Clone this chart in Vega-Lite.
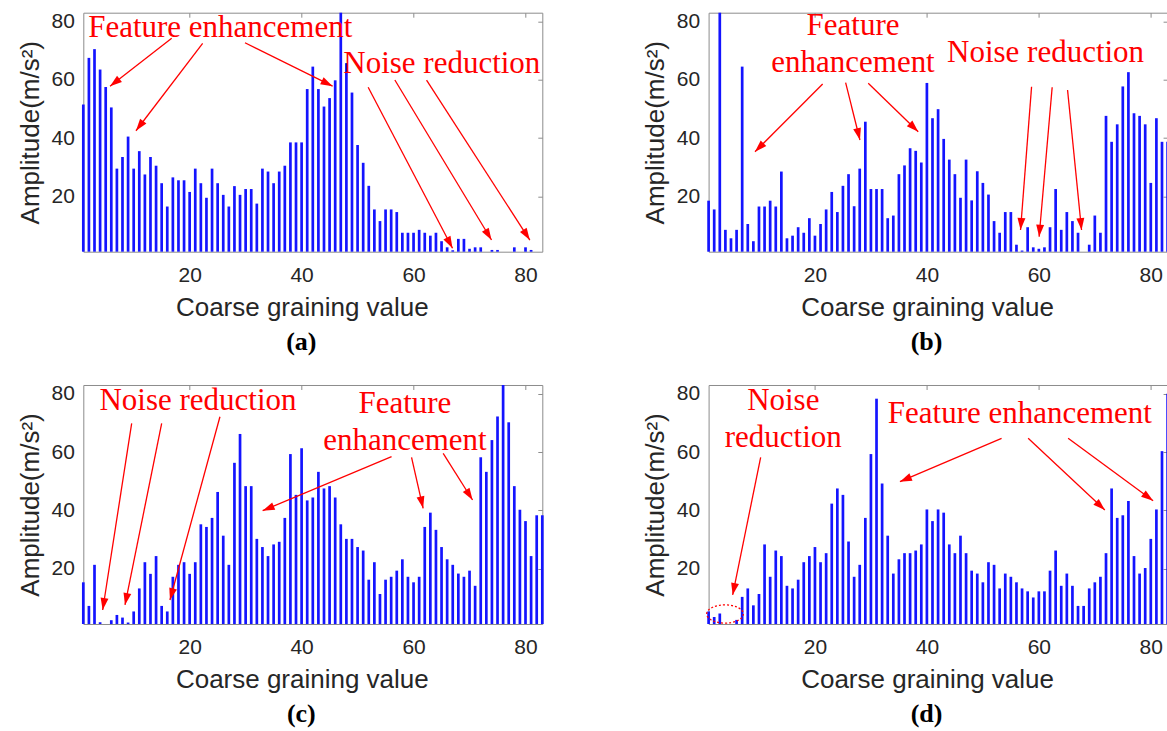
{
  "$schema": "https://vega.github.io/schema/vega-lite/v6.json",
  "padding": {"left": 16.3, "top": 8.7, "right": 0, "bottom": 0},
  "background": "white",
  "datasets": {
    "bars": [
      {"x":1,"a":51.5,"b":18.5,"c":15.3,"d":5.3},
      {"x":2,"a":67.5,"b":15.5,"c":7.2,"d":3.4},
      {"x":3,"a":70.5,"b":83,"c":21.3,"d":4.6},
      {"x":4,"a":63.5,"b":8.5,"c":1.6,"d":1},
      {"x":5,"a":57.5,"b":5.6,"c":1,"d":1},
      {"x":6,"a":50.5,"b":8.5,"c":2.3,"d":2.4},
      {"x":7,"a":29.5,"b":64.5,"c":4.1,"d":10.3},
      {"x":8,"a":33.5,"b":10.5,"c":3.2,"d":13.2},
      {"x":9,"a":40.5,"b":4.6,"c":1.5,"d":7.4},
      {"x":10,"a":29.5,"b":16.5,"c":5.3,"d":11.3},
      {"x":11,"a":35.5,"b":16.5,"c":13.2,"d":28.3},
      {"x":12,"a":27.5,"b":18.5,"c":22.2,"d":17.2},
      {"x":13,"a":33.5,"b":16.5,"c":18.2,"d":26.2},
      {"x":14,"a":30.5,"b":28.5,"c":24.3,"d":24.3},
      {"x":15,"a":24.5,"b":5.6,"c":7.2,"d":14.1},
      {"x":16,"a":16.5,"b":6.5,"c":5.3,"d":13.2},
      {"x":17,"a":26.5,"b":9.4,"c":17.2,"d":16.2},
      {"x":18,"a":25.5,"b":7.5,"c":21.3,"d":22.2},
      {"x":19,"a":25.5,"b":12.5,"c":22.2,"d":24.3},
      {"x":20,"a":21.5,"b":6.5,"c":18.2,"d":27.4},
      {"x":21,"a":29.5,"b":10.5,"c":22.2,"d":22.2},
      {"x":22,"a":24.5,"b":15.5,"c":35.2,"d":25.3},
      {"x":23,"a":19.5,"b":21.5,"c":34.3,"d":42.3},
      {"x":24,"a":29.5,"b":14.6,"c":37.4,"d":47.5},
      {"x":25,"a":24.5,"b":23.6,"c":46.3,"d":45.3},
      {"x":26,"a":20.5,"b":27.6,"c":31.3,"d":29.3},
      {"x":27,"a":16.5,"b":16.6,"c":21.3,"d":17.2},
      {"x":28,"a":23.5,"b":29.5,"c":56.3,"d":21.3},
      {"x":29,"a":20.5,"b":45.6,"c":66.2,"d":37.4},
      {"x":30,"a":22.5,"b":22.5,"c":48.3,"d":59.3},
      {"x":31,"a":22.5,"b":22.5,"c":48.3,"d":78.3},
      {"x":32,"a":17.5,"b":22.5,"c":30.2,"d":49.2},
      {"x":33,"a":29.5,"b":12.5,"c":27.4,"d":31.3},
      {"x":34,"a":28.5,"b":13.4,"c":24.3,"d":18.3},
      {"x":35,"a":24.5,"b":27.6,"c":28.3,"d":23.2},
      {"x":36,"a":28.5,"b":30.6,"c":29.2,"d":25.3},
      {"x":37,"a":30.5,"b":36.5,"c":37.4,"d":25.3},
      {"x":38,"a":38.5,"b":35.6,"c":59.3,"d":26.2},
      {"x":39,"a":38.5,"b":31.6,"c":45.3,"d":28.3},
      {"x":40,"a":38.5,"b":58.9,"c":61.3,"d":40.3},
      {"x":41,"a":56.8,"b":46.8,"c":43.4,"d":36.3},
      {"x":42,"a":64.5,"b":49.9,"c":44.4,"d":40.3},
      {"x":43,"a":56.8,"b":39.7,"c":53.2,"d":39.2},
      {"x":44,"a":50.8,"b":32.6,"c":47.5,"d":28.3},
      {"x":45,"a":53.7,"b":27.6,"c":48.3,"d":25.3},
      {"x":46,"a":59.8,"b":19.5,"c":44.4,"d":31.3},
      {"x":47,"a":83,"b":32.6,"c":35.2,"d":25.3},
      {"x":48,"a":65.7,"b":18.6,"c":30.2,"d":19.3},
      {"x":49,"a":55.6,"b":28.6,"c":30.2,"d":18.3},
      {"x":50,"a":37.6,"b":24.6,"c":27.4,"d":15.3},
      {"x":51,"a":31.5,"b":20.6,"c":26.2,"d":22.2},
      {"x":52,"a":23.6,"b":11.5,"c":16.2,"d":21.3},
      {"x":53,"a":15.5,"b":7.5,"c":22.2,"d":13.2},
      {"x":54,"a":11.5,"b":14.6,"c":11.3,"d":18.3},
      {"x":55,"a":15.5,"b":14.6,"c":16.2,"d":17.2},
      {"x":56,"a":15.5,"b":3.4,"c":17.2,"d":15.3},
      {"x":57,"a":14.6,"b":1.4,"c":19.3,"d":13.2},
      {"x":58,"a":7.5,"b":9.4,"c":23.2,"d":12.2},
      {"x":59,"a":7.5,"b":2.5,"c":17.2,"d":10.1},
      {"x":60,"a":7.5,"b":2,"c":15.3,"d":12.2},
      {"x":61,"a":8.5,"b":2.5,"c":17.2,"d":12.2},
      {"x":62,"a":7.5,"b":9.4,"c":34.3,"d":19.3},
      {"x":63,"a":6.5,"b":22.5,"c":39.2,"d":26.2},
      {"x":64,"a":7.5,"b":8.5,"c":33.3,"d":14.1},
      {"x":65,"a":4.6,"b":14.6,"c":27.4,"d":18.3},
      {"x":66,"a":2.5,"b":11.5,"c":23.2,"d":14.1},
      {"x":67,"a":1.5,"b":7.5,"c":21.3,"d":7.2},
      {"x":68,"a":5.4,"b":1,"c":18.3,"d":7.2},
      {"x":69,"a":5.4,"b":3.4,"c":17.2,"d":13.2},
      {"x":70,"a":2,"b":13.4,"c":19.3,"d":15.3},
      {"x":71,"a":2.5,"b":7.5,"c":14.1,"d":17.2},
      {"x":72,"a":2.5,"b":47.6,"c":58.2,"d":25.3},
      {"x":73,"a":1,"b":38.7,"c":53.2,"d":47.5},
      {"x":74,"a":1.6,"b":44.7,"c":64.1,"d":37.4},
      {"x":75,"a":1.6,"b":57.7,"c":72.2,"d":38.3},
      {"x":76,"a":1,"b":62.6,"c":83,"d":43.2},
      {"x":77,"a":1,"b":48.5,"c":70.2,"d":24.3},
      {"x":78,"a":2.5,"b":47.6,"c":48.3,"d":18.3},
      {"x":79,"a":1,"b":44.7,"c":40.2,"d":20.2},
      {"x":80,"a":2.5,"b":24.6,"c":36.3,"d":30.2},
      {"x":81,"a":1.6,"b":46.8,"c":24.3,"d":40.3},
      {"x":82,"a":1,"b":38.7,"c":38.3,"d":60.3},
      {"x":83,"a":1,"b":38.7,"c":38.3,"d":80}
    ],
    "arrows": [
      {"p":"a","x1":16.79,"y1":74.2,"x2":5.77,"y2":57.8},
      {"p":"a","x1":22.32,"y1":72.5,"x2":10.41,"y2":42.5},
      {"p":"a","x1":29.88,"y1":72.7,"x2":45.54,"y2":57.8},
      {"p":"a","x1":51.89,"y1":57.4,"x2":66.96,"y2":2.17},
      {"p":"a","x1":56.66,"y1":59.9,"x2":73.93,"y2":5.0},
      {"p":"a","x1":62.32,"y1":59.9,"x2":80.77,"y2":5.0},
      {"p":"b","x1":21.38,"y1":58.53,"x2":9.29,"y2":35.3},
      {"p":"b","x1":25.48,"y1":58.98,"x2":28.04,"y2":39.32},
      {"p":"b","x1":29.52,"y1":58.77,"x2":38.45,"y2":42.17},
      {"p":"b","x1":58.7,"y1":57.6,"x2":56.73,"y2":8.44},
      {"p":"b","x1":62.38,"y1":57.4,"x2":60.05,"y2":6.15},
      {"p":"b","x1":65.13,"y1":56.47,"x2":67.63,"y2":8.44},
      {"p":"c","x1":9.64,"y1":69.85,"x2":4.46,"y2":5.8},
      {"p":"c","x1":15.0,"y1":69.85,"x2":8.45,"y2":7.52},
      {"p":"c","x1":25.41,"y1":72.12,"x2":16.48,"y2":9.23},
      {"p":"c","x1":56.07,"y1":58.39,"x2":33.04,"y2":39.87},
      {"p":"c","x1":59.64,"y1":58.19,"x2":61.71,"y2":40.69},
      {"p":"c","x1":65.29,"y1":59.56,"x2":70.54,"y2":43.54},
      {"p":"d","x1":10.3,"y1":58.19,"x2":5.3,"y2":10.95},
      {"p":"d","x1":53.34,"y1":64.71,"x2":35.18,"y2":49.82},
      {"p":"d","x1":58.09,"y1":64.71,"x2":71.79,"y2":40.11},
      {"p":"d","x1":65.23,"y1":64.71,"x2":80.41,"y2":43.3}
    ],
    "notes": [
      {"p":"a","x":25.46,"y":74.75,"t":"Feature enhancement"},
      {"p":"a","x":65.05,"y":62.2,"t":"Noise reduction"},
      {"p":"b","x":26.8,"y":75.3,"t":"Feature\nenhancement"},
      {"p":"b","x":61.2,"y":65.97,"t":"Noise reduction"},
      {"p":"c","x":21.48,"y":74.41,"t":"Noise reduction"},
      {"p":"c","x":58.45,"y":73.28,"t":"Feature\nenhancement"},
      {"p":"d","x":14.34,"y":74.41,"t":"Noise\nreduction"},
      {"p":"d","x":56.61,"y":69.85,"t":"Feature enhancement"}
    ],
    "ellipse": [
      {"p":"d","x":3.93,"y":4.43}
    ]
  },
  "vconcat": [
    {
      "hconcat": [
        {
          "width": 459, "height": 239,
          "title": {"text": "(a)", "orient": "bottom", "anchor": "middle", "dx": -11.5, "offset": 8, "font": "Liberation Serif", "fontSize": 26, "fontWeight": "bold", "color": "#000000"},
          "layer": [
            {"data": {"name": "bars"}, "mark": {"type": "rule", "color": "#1414ff", "strokeWidth": 2.7},
             "encoding": {
               "x": {"field": "x", "type": "quantitative", "scale": {"domain": [1, 83], "nice": false, "zero": false}, "axis": {"orient": "bottom", "values": [20, 40, 60, 80], "title": "Coarse graining value", "ticks": false, "labelPadding": 30, "labelBaseline": "alphabetic", "titleX": 218.5, "titleY": 64, "titleBaseline": "alphabetic"}},
               "y": {"field": "a", "type": "quantitative", "scale": {"domain": [1, 83], "nice": false, "zero": false}, "axis": {"orient": "left", "values": [20, 40, 60, 80], "title": "Amplitude(m/s²)", "ticks": false, "labelPadding": 9, "titleX": -45, "titleBaseline": "alphabetic", "titleAngle": 270}},
               "y2": {"datum": 1}
             }},
            {"data": {"name": "arrows"}, "transform": [{"filter": "datum.p == 'a'"}], "mark": {"type": "rule", "color": "#ff0000", "strokeWidth": 1.3},
             "encoding": {
               "x": {"field": "x1", "type": "quantitative", "scale": {"domain": [1, 83], "nice": false, "zero": false}, "axis": {"orient": "top", "values": [20, 40, 60, 80], "labels": false, "title": null, "offset": -4.5, "tickSize": 4.5}},
               "y": {"field": "y1", "type": "quantitative", "scale": {"domain": [1, 83], "nice": false, "zero": false}, "axis": {"orient": "right", "values": [20, 40, 60, 80], "labels": false, "title": null, "offset": -4.5, "tickSize": 4.5}},
               "x2": {"field": "x2"}, "y2": {"field": "y2"}
             }},
            {"data": {"name": "arrows"}, "transform": [{"filter": "datum.p == 'a'"}, {"calculate": "atan2((datum.x2 - datum.x1) * 5.598, (datum.y2 - datum.y1) * 2.915) * 180 / PI", "as": "ang"}],
             "mark": {"type": "point", "shape": "M0,0L-0.33,1L0.33,1Z", "filled": true, "color": "#ff0000", "size": 576, "opacity": 1, "strokeWidth": 0},
             "encoding": {
               "x": {"field": "x2", "type": "quantitative", "scale": {"domain": [1, 83], "nice": false, "zero": false}, "axis": null},
               "y": {"field": "y2", "type": "quantitative", "scale": {"domain": [1, 83], "nice": false, "zero": false}, "axis": null},
               "angle": {"field": "ang", "type": "quantitative", "scale": null}
             }},
            {"data": {"name": "notes"}, "transform": [{"filter": "datum.p == 'a'"}],
             "mark": {"type": "text", "font": "Liberation Serif", "fontSize": 31, "color": "#ff0000", "align": "center", "baseline": "alphabetic", "lineBreak": "\n", "lineHeight": 36.7},
             "encoding": {
               "x": {"field": "x", "type": "quantitative", "scale": {"domain": [1, 83], "nice": false, "zero": false}, "axis": null},
               "y": {"field": "y", "type": "quantitative", "scale": {"domain": [1, 83], "nice": false, "zero": false}, "axis": null},
               "text": {"field": "t"}
             }}
          ]
        },
        {
          "width": 459, "height": 239,
          "title": {"text": "(b)", "orient": "bottom", "anchor": "middle", "dx": -11.5, "offset": 8, "font": "Liberation Serif", "fontSize": 26, "fontWeight": "bold", "color": "#000000"},
          "layer": [
            {"data": {"name": "bars"}, "mark": {"type": "rule", "color": "#1414ff", "strokeWidth": 2.7},
             "encoding": {
               "x": {"field": "x", "type": "quantitative", "scale": {"domain": [1, 83], "nice": false, "zero": false}, "axis": {"orient": "bottom", "values": [20, 40, 60, 80], "title": "Coarse graining value", "ticks": false, "labelPadding": 30, "labelBaseline": "alphabetic", "titleX": 218.5, "titleY": 64, "titleBaseline": "alphabetic"}},
               "y": {"field": "b", "type": "quantitative", "scale": {"domain": [1, 83], "nice": false, "zero": false}, "axis": {"orient": "left", "values": [20, 40, 60, 80], "title": "Amplitude(m/s²)", "ticks": false, "labelPadding": 9, "titleX": -45, "titleBaseline": "alphabetic", "titleAngle": 270}},
               "y2": {"datum": 1}
             }},
            {"data": {"name": "arrows"}, "transform": [{"filter": "datum.p == 'b'"}], "mark": {"type": "rule", "color": "#ff0000", "strokeWidth": 1.3},
             "encoding": {
               "x": {"field": "x1", "type": "quantitative", "scale": {"domain": [1, 83], "nice": false, "zero": false}, "axis": {"orient": "top", "values": [20, 40, 60, 80], "labels": false, "title": null, "offset": -4.5, "tickSize": 4.5}},
               "y": {"field": "y1", "type": "quantitative", "scale": {"domain": [1, 83], "nice": false, "zero": false}, "axis": {"orient": "right", "values": [20, 40, 60, 80], "labels": false, "title": null, "offset": -4.5, "tickSize": 4.5}},
               "x2": {"field": "x2"}, "y2": {"field": "y2"}
             }},
            {"data": {"name": "arrows"}, "transform": [{"filter": "datum.p == 'b'"}, {"calculate": "atan2((datum.x2 - datum.x1) * 5.598, (datum.y2 - datum.y1) * 2.915) * 180 / PI", "as": "ang"}],
             "mark": {"type": "point", "shape": "M0,0L-0.33,1L0.33,1Z", "filled": true, "color": "#ff0000", "size": 576, "opacity": 1, "strokeWidth": 0},
             "encoding": {
               "x": {"field": "x2", "type": "quantitative", "scale": {"domain": [1, 83], "nice": false, "zero": false}, "axis": null},
               "y": {"field": "y2", "type": "quantitative", "scale": {"domain": [1, 83], "nice": false, "zero": false}, "axis": null},
               "angle": {"field": "ang", "type": "quantitative", "scale": null}
             }},
            {"data": {"name": "notes"}, "transform": [{"filter": "datum.p == 'b'"}],
             "mark": {"type": "text", "font": "Liberation Serif", "fontSize": 31, "color": "#ff0000", "align": "center", "baseline": "alphabetic", "lineBreak": "\n", "lineHeight": 36.7},
             "encoding": {
               "x": {"field": "x", "type": "quantitative", "scale": {"domain": [1, 83], "nice": false, "zero": false}, "axis": null},
               "y": {"field": "y", "type": "quantitative", "scale": {"domain": [1, 83], "nice": false, "zero": false}, "axis": null},
               "text": {"field": "t"}
             }}
          ]
        }
      ],
      "spacing": 166.3,
      "bounds": "flush"
    },
    {
      "hconcat": [
        {
          "width": 459, "height": 239,
          "title": {"text": "(c)", "orient": "bottom", "anchor": "middle", "dx": -11.5, "offset": 8, "font": "Liberation Serif", "fontSize": 26, "fontWeight": "bold", "color": "#000000"},
          "layer": [
            {"data": {"name": "bars"}, "mark": {"type": "rule", "color": "#1414ff", "strokeWidth": 2.7},
             "encoding": {
               "x": {"field": "x", "type": "quantitative", "scale": {"domain": [1, 83], "nice": false, "zero": false}, "axis": {"orient": "bottom", "values": [20, 40, 60, 80], "title": "Coarse graining value", "ticks": false, "labelPadding": 30, "labelBaseline": "alphabetic", "titleX": 218.5, "titleY": 64, "titleBaseline": "alphabetic"}},
               "y": {"field": "c", "type": "quantitative", "scale": {"domain": [1, 83], "nice": false, "zero": false}, "axis": {"orient": "left", "values": [20, 40, 60, 80], "title": "Amplitude(m/s²)", "ticks": false, "labelPadding": 9, "titleX": -45, "titleBaseline": "alphabetic", "titleAngle": 270}},
               "y2": {"datum": 1}
             }},
            {"data": {"name": "arrows"}, "transform": [{"filter": "datum.p == 'c'"}], "mark": {"type": "rule", "color": "#ff0000", "strokeWidth": 1.3},
             "encoding": {
               "x": {"field": "x1", "type": "quantitative", "scale": {"domain": [1, 83], "nice": false, "zero": false}, "axis": {"orient": "top", "values": [20, 40, 60, 80], "labels": false, "title": null, "offset": -4.5, "tickSize": 4.5}},
               "y": {"field": "y1", "type": "quantitative", "scale": {"domain": [1, 83], "nice": false, "zero": false}, "axis": {"orient": "right", "values": [20, 40, 60, 80], "labels": false, "title": null, "offset": -4.5, "tickSize": 4.5}},
               "x2": {"field": "x2"}, "y2": {"field": "y2"}
             }},
            {"data": {"name": "arrows"}, "transform": [{"filter": "datum.p == 'c'"}, {"calculate": "atan2((datum.x2 - datum.x1) * 5.598, (datum.y2 - datum.y1) * 2.915) * 180 / PI", "as": "ang"}],
             "mark": {"type": "point", "shape": "M0,0L-0.33,1L0.33,1Z", "filled": true, "color": "#ff0000", "size": 576, "opacity": 1, "strokeWidth": 0},
             "encoding": {
               "x": {"field": "x2", "type": "quantitative", "scale": {"domain": [1, 83], "nice": false, "zero": false}, "axis": null},
               "y": {"field": "y2", "type": "quantitative", "scale": {"domain": [1, 83], "nice": false, "zero": false}, "axis": null},
               "angle": {"field": "ang", "type": "quantitative", "scale": null}
             }},
            {"data": {"name": "notes"}, "transform": [{"filter": "datum.p == 'c'"}],
             "mark": {"type": "text", "font": "Liberation Serif", "fontSize": 31, "color": "#ff0000", "align": "center", "baseline": "alphabetic", "lineBreak": "\n", "lineHeight": 36.7},
             "encoding": {
               "x": {"field": "x", "type": "quantitative", "scale": {"domain": [1, 83], "nice": false, "zero": false}, "axis": null},
               "y": {"field": "y", "type": "quantitative", "scale": {"domain": [1, 83], "nice": false, "zero": false}, "axis": null},
               "text": {"field": "t"}
             }}
          ]
        },
        {
          "width": 459, "height": 239,
          "title": {"text": "(d)", "orient": "bottom", "anchor": "middle", "dx": -11.5, "offset": 8, "font": "Liberation Serif", "fontSize": 26, "fontWeight": "bold", "color": "#000000"},
          "layer": [
            {"data": {"name": "bars"}, "mark": {"type": "rule", "color": "#1414ff", "strokeWidth": 2.7},
             "encoding": {
               "x": {"field": "x", "type": "quantitative", "scale": {"domain": [1, 83], "nice": false, "zero": false}, "axis": {"orient": "bottom", "values": [20, 40, 60, 80], "title": "Coarse graining value", "ticks": false, "labelPadding": 30, "labelBaseline": "alphabetic", "titleX": 218.5, "titleY": 64, "titleBaseline": "alphabetic"}},
               "y": {"field": "d", "type": "quantitative", "scale": {"domain": [1, 83], "nice": false, "zero": false}, "axis": {"orient": "left", "values": [20, 40, 60, 80], "title": "Amplitude(m/s²)", "ticks": false, "labelPadding": 9, "titleX": -45, "titleBaseline": "alphabetic", "titleAngle": 270}},
               "y2": {"datum": 1}
             }},
            {"data": {"name": "arrows"}, "transform": [{"filter": "datum.p == 'd'"}], "mark": {"type": "rule", "color": "#ff0000", "strokeWidth": 1.3},
             "encoding": {
               "x": {"field": "x1", "type": "quantitative", "scale": {"domain": [1, 83], "nice": false, "zero": false}, "axis": {"orient": "top", "values": [20, 40, 60, 80], "labels": false, "title": null, "offset": -4.5, "tickSize": 4.5}},
               "y": {"field": "y1", "type": "quantitative", "scale": {"domain": [1, 83], "nice": false, "zero": false}, "axis": {"orient": "right", "values": [20, 40, 60, 80], "labels": false, "title": null, "offset": -4.5, "tickSize": 4.5}},
               "x2": {"field": "x2"}, "y2": {"field": "y2"}
             }},
            {"data": {"name": "arrows"}, "transform": [{"filter": "datum.p == 'd'"}, {"calculate": "atan2((datum.x2 - datum.x1) * 5.598, (datum.y2 - datum.y1) * 2.915) * 180 / PI", "as": "ang"}],
             "mark": {"type": "point", "shape": "M0,0L-0.33,1L0.33,1Z", "filled": true, "color": "#ff0000", "size": 576, "opacity": 1, "strokeWidth": 0},
             "encoding": {
               "x": {"field": "x2", "type": "quantitative", "scale": {"domain": [1, 83], "nice": false, "zero": false}, "axis": null},
               "y": {"field": "y2", "type": "quantitative", "scale": {"domain": [1, 83], "nice": false, "zero": false}, "axis": null},
               "angle": {"field": "ang", "type": "quantitative", "scale": null}
             }},
            {"data": {"name": "notes"}, "transform": [{"filter": "datum.p == 'd'"}],
             "mark": {"type": "text", "font": "Liberation Serif", "fontSize": 31, "color": "#ff0000", "align": "center", "baseline": "alphabetic", "lineBreak": "\n", "lineHeight": 36.7},
             "encoding": {
               "x": {"field": "x", "type": "quantitative", "scale": {"domain": [1, 83], "nice": false, "zero": false}, "axis": null},
               "y": {"field": "y", "type": "quantitative", "scale": {"domain": [1, 83], "nice": false, "zero": false}, "axis": null},
               "text": {"field": "t"}
             }},
            {"data": {"name": "ellipse"},
             "mark": {"type": "point", "shape": "M-1,0A1,0.5,0,1,1,1,0A1,0.5,0,1,1,-1,0Z", "filled": false, "color": "#ff0000", "size": 1340, "opacity": 1, "strokeWidth": 1.3, "strokeDash": [2, 2]},
             "encoding": {
               "x": {"field": "x", "type": "quantitative", "scale": {"domain": [1, 83], "nice": false, "zero": false}, "axis": null},
               "y": {"field": "y", "type": "quantitative", "scale": {"domain": [1, 83], "nice": false, "zero": false}, "axis": null}
             }}
          ]
        }
      ],
      "spacing": 166.3,
      "bounds": "flush"
    }
  ],
  "spacing": 372.3,
  "bounds": "flush",
  "config": {
    "view": {"stroke": "#8c8c8c", "strokeWidth": 1},
    "axis": {
      "labelFont": "Liberation Sans", "labelFontSize": 21, "labelColor": "#262626",
      "titleFont": "Liberation Sans", "titleFontSize": 26, "titleFontWeight": "normal", "titleColor": "#262626",
      "grid": false, "domain": false, "tickColor": "#8c8c8c", "tickWidth": 1
    }
  }
}
